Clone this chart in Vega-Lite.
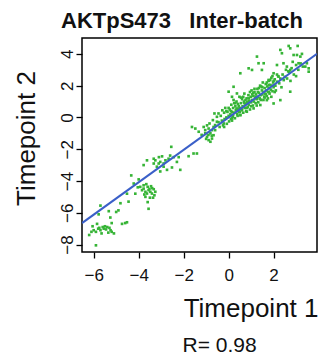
{
  "$schema": "https://vega.github.io/schema/vega-lite/v6.json",
  "width": 235,
  "height": 214,
  "autosize": "none",
  "padding": {"left": 82, "top": 38, "right": 5, "bottom": 106},
  "background": "white",
  "title": {
    "text": "AKTpS473\u00a0\u00a0\u00a0Inter-batch",
    "anchor": "start",
    "frame": "group",
    "dx": -21,
    "dy": 23,
    "offset": 11,
    "baseline": "alphabetic",
    "font": "Liberation Sans",
    "fontSize": 22,
    "fontWeight": "bold",
    "color": "#111111"
  },
  "config": {
    "view": {"stroke": "black", "strokeWidth": 1.5},
    "axis": {
      "grid": false,
      "domain": false,
      "tickColor": "black",
      "tickWidth": 1.3,
      "tickSize": 6,
      "labelFont": "Liberation Sans",
      "labelFontSize": 17,
      "labelColor": "#111111",
      "titleFont": "Liberation Sans",
      "titleFontWeight": "normal",
      "titleColor": "#111111"
    }
  },
  "encoding": {
    "y": {
      "field": "y",
      "type": "quantitative",
      "scale": {"domain": [-8.47, 5.0], "nice": false, "zero": false},
      "axis": {
        "values": [-8, -6, -4, -2, 0, 2, 4],
        "labelAngle": -90,
        "labelAlign": "center",
        "labelBaseline": "alphabetic",
        "labelPadding": 4,
        "title": "Timepoint 2",
        "titleFontSize": 26,
        "titleAngle": -90,
        "titleAlign": "center",
        "titleBaseline": "alphabetic",
        "titleX": -48,
        "titleY": 100
      }
    }
  },
  "layer": [
    {
      "data": {"values": [
        {"x":-6.2,"y":-7.4},{"x":-6.1,"y":-7.2},{"x":-6.0,"y":-7.1},{"x":-5.9,"y":-7.2},{"x":-5.8,"y":-7.0},{"x":-5.75,"y":-6.95},{"x":-5.7,"y":-7.1},{"x":-5.6,"y":-6.9},{"x":-5.55,"y":-7.0},{"x":-5.5,"y":-6.85},{"x":-5.45,"y":-7.05},{"x":-5.4,"y":-6.9},{"x":-5.3,"y":-6.95},{"x":-5.25,"y":-7.1},{"x":-5.2,"y":-7.2},{"x":-5.1,"y":-7.3},{"x":-6.05,"y":-6.85},{"x":-5.85,"y":-6.7},{"x":-5.9,"y":-8.05},{"x":-5.65,"y":-7.3},{"x":-5.35,"y":-7.25},
        {"x":-5.7,"y":-5.55},{"x":-5.78,"y":-6.1},{"x":-5.26,"y":-6.3},{"x":-5.2,"y":-6.65},{"x":-4.9,"y":-5.85},{"x":-4.81,"y":-5.4},{"x":-4.74,"y":-6.7},{"x":-4.6,"y":-6.65},{"x":-4.52,"y":-6.6},{"x":-5.0,"y":-5.95},{"x":-4.52,"y":-4.8},{"x":-4.45,"y":-5.3},{"x":-5.33,"y":-5.9},
        {"x":-3.93,"y":-4.37},{"x":-3.85,"y":-4.58},{"x":-3.78,"y":-4.48},{"x":-3.7,"y":-4.68},{"x":-3.63,"y":-4.79},{"x":-3.56,"y":-4.58},{"x":-3.48,"y":-4.68},{"x":-3.41,"y":-4.79},{"x":-3.33,"y":-4.52},{"x":-3.26,"y":-4.68},{"x":-3.6,"y":-4.37},{"x":-3.45,"y":-4.33},{"x":-3.7,"y":-5.0},{"x":-3.5,"y":-5.05},{"x":-3.36,"y":-5.05},{"x":-3.78,"y":-4.27},{"x":-3.66,"y":-4.2},{"x":-3.6,"y":-5.33},{"x":-3.56,"y":-5.75},{"x":-3.52,"y":-4.5},{"x":-3.4,"y":-4.45},{"x":-3.3,"y":-4.9},{"x":-3.75,"y":-4.85},
        {"x":-4.33,"y":-3.65},{"x":-4.22,"y":-4.16},{"x":-4.15,"y":-4.8},{"x":-4.0,"y":-3.9},{"x":-4.04,"y":-4.4},
        {"x":-3.78,"y":-3.0},{"x":-3.63,"y":-2.7},{"x":-3.33,"y":-2.6},{"x":-3.26,"y":-2.7},{"x":-3.1,"y":-2.5},{"x":-3.04,"y":-2.8},{"x":-2.96,"y":-2.45},{"x":-2.81,"y":-2.7},{"x":-2.67,"y":-2.6},{"x":-2.6,"y":-2.4},{"x":-2.55,"y":-1.85},{"x":-2.44,"y":-2.5},{"x":-2.3,"y":-2.8},{"x":-2.22,"y":-2.5},{"x":-2.15,"y":-3.3},{"x":-2.89,"y":-3.1},{"x":-2.74,"y":-3.3},{"x":-3.04,"y":-3.4},{"x":-2.52,"y":-3.15},{"x":-3.11,"y":-2.9},{"x":-2.89,"y":-2.9},{"x":-3.33,"y":-2.9},{"x":-3.19,"y":-3.1},
        {"x":-1.78,"y":-2.44},{"x":-1.56,"y":-2.27},{"x":-1.41,"y":-2.27},{"x":-1.48,"y":-0.7},{"x":-1.33,"y":-0.9},{"x":-1.63,"y":-0.6},
        {"x":-1.11,"y":-0.6},{"x":-1.04,"y":-0.8},{"x":-0.96,"y":-0.5},{"x":-0.89,"y":-0.7},{"x":-0.81,"y":-1.0},{"x":-0.74,"y":-0.8},{"x":-0.67,"y":-0.6},{"x":-0.96,"y":-1.22},{"x":-0.89,"y":-1.43},{"x":-0.81,"y":-1.53},{"x":-0.74,"y":-1.33},{"x":-0.67,"y":-1.12},{"x":-0.6,"y":-0.8},{"x":-1.04,"y":-1.0},{"x":-0.85,"y":-0.38},{"x":-0.7,"y":-0.17},{"x":-0.6,"y":-0.48},{"x":-0.52,"y":-0.27},{"x":-0.52,"y":0.04},{"x":-0.63,"y":0.25},{"x":-0.45,"y":0.25},{"x":-1.2,"y":-1.1},{"x":-0.9,"y":-1.1},{"x":-0.75,"y":-1.15},{"x":-1.0,"y":-1.35},
        {"x":-0.45,"y":-0.3},{"x":-0.4,"y":-0.6},{"x":-0.35,"y":0.1},{"x":-0.3,"y":-0.2},{"x":-0.28,"y":0.45},{"x":-0.25,"y":-0.5},{"x":-0.2,"y":0.3},{"x":-0.18,"y":-0.1},{"x":-0.15,"y":0.6},{"x":-0.1,"y":0.0},{"x":-0.08,"y":-0.4},{"x":-0.05,"y":0.35},{"x":0.0,"y":0.1},{"x":0.02,"y":-0.25},{"x":0.05,"y":0.5},{"x":0.08,"y":0.2},{"x":0.1,"y":-0.1},{"x":0.12,"y":0.8},{"x":0.15,"y":0.35},{"x":0.18,"y":0.05},{"x":0.2,"y":0.6},{"x":0.22,"y":1.1},{"x":0.25,"y":0.3},{"x":0.28,"y":-0.05},{"x":0.3,"y":0.7},{"x":0.32,"y":0.45},{"x":0.35,"y":1.0},{"x":0.38,"y":0.2},{"x":0.4,"y":0.55},{"x":0.42,"y":0.85},{"x":0.45,"y":0.35},{"x":0.48,"y":1.3},{"x":0.5,"y":0.6},{"x":0.52,"y":0.15},{"x":0.55,"y":0.9},{"x":0.58,"y":0.45},{"x":0.6,"y":1.15},{"x":0.62,"y":0.7},{"x":0.65,"y":0.3},{"x":0.68,"y":1.0},{"x":0.7,"y":1.5},{"x":0.72,"y":0.6},{"x":0.75,"y":0.85},{"x":0.78,"y":0.4},{"x":0.8,"y":1.2},{"x":0.82,"y":0.95},{"x":0.85,"y":0.65},{"x":0.88,"y":1.4},{"x":0.9,"y":0.8},{"x":0.92,"y":1.05},{"x":0.95,"y":0.5},{"x":0.98,"y":1.3},{"x":1.0,"y":0.95},{"x":1.02,"y":1.7},{"x":1.05,"y":1.1},{"x":1.08,"y":0.75},{"x":1.1,"y":1.35},{"x":1.12,"y":1.0},{"x":1.15,"y":1.6},{"x":1.18,"y":1.2},{"x":1.2,"y":0.9},{"x":1.22,"y":1.45},{"x":1.25,"y":1.15},{"x":1.28,"y":1.8},{"x":1.3,"y":1.3},{"x":1.32,"y":0.95},{"x":1.35,"y":1.55},{"x":1.38,"y":1.2},{"x":1.4,"y":2.0},{"x":1.42,"y":1.4},{"x":1.45,"y":1.1},{"x":1.48,"y":1.7},{"x":1.5,"y":1.45},{"x":1.52,"y":2.2},{"x":1.55,"y":1.6},{"x":1.58,"y":1.3},{"x":1.6,"y":1.85},{"x":1.62,"y":1.5},{"x":1.65,"y":2.1},{"x":1.68,"y":1.7},{"x":1.7,"y":1.35},{"x":1.72,"y":1.95},{"x":1.75,"y":1.6},{"x":1.78,"y":2.3},{"x":1.8,"y":1.85},{"x":1.82,"y":1.5},{"x":1.85,"y":2.05},{"x":1.88,"y":1.75},{"x":1.9,"y":2.5},{"x":1.92,"y":2.0},{"x":1.95,"y":1.65},{"x":1.98,"y":2.2},{"x":2.0,"y":1.9},{"x":2.05,"y":2.4},{"x":2.08,"y":2.0},{"x":2.1,"y":1.7},{"x":2.15,"y":2.25},{"x":2.2,"y":2.6},{"x":2.25,"y":2.15},{"x":2.3,"y":2.45},{"x":2.35,"y":1.9},{"x":2.4,"y":2.7},{"x":2.45,"y":2.35},{"x":2.5,"y":2.55},{"x":2.55,"y":3.0},{"x":2.6,"y":2.45},{"x":2.7,"y":2.85},{"x":2.75,"y":2.3},
        {"x":0.0,"y":0.6},{"x":0.1,"y":0.4},{"x":0.2,"y":0.15},{"x":0.3,"y":0.9},{"x":0.4,"y":0.1},{"x":0.5,"y":0.35},{"x":0.6,"y":0.5},{"x":0.7,"y":0.9},{"x":0.8,"y":0.6},{"x":0.9,"y":1.2},{"x":1.0,"y":0.7},{"x":1.1,"y":1.55},{"x":1.2,"y":1.3},{"x":1.3,"y":1.6},{"x":1.4,"y":1.15},{"x":1.5,"y":1.9},{"x":1.6,"y":1.25},{"x":1.7,"y":2.2},{"x":1.8,"y":1.6},{"x":1.9,"y":1.3},{"x":2.0,"y":2.3},{"x":-0.2,"y":-0.6},{"x":-0.1,"y":0.4},{"x":0.25,"y":0.9},{"x":0.45,"y":0.7},{"x":0.65,"y":1.3},{"x":0.85,"y":1.0},{"x":1.05,"y":1.45},{"x":1.25,"y":0.75},{"x":1.45,"y":1.95},{"x":1.65,"y":1.45},{"x":1.85,"y":2.35},{"x":2.05,"y":1.6},{"x":0.15,"y":-0.2},{"x":0.55,"y":1.25},{"x":0.95,"y":1.6},{"x":1.35,"y":1.85},{"x":1.75,"y":1.2},{"x":2.15,"y":2.7},{"x":0.35,"y":0.55},{"x":0.75,"y":1.1},{"x":1.15,"y":1.8},{"x":1.55,"y":1.1},{"x":1.95,"y":2.6},
        {"x":1.26,"y":3.83},{"x":1.33,"y":3.41},{"x":1.56,"y":3.41},{"x":1.48,"y":2.99},{"x":2.3,"y":4.25},{"x":2.37,"y":4.04},{"x":2.67,"y":4.5},{"x":2.74,"y":4.35},{"x":3.07,"y":4.5},{"x":2.89,"y":3.93},{"x":3.04,"y":3.93},{"x":3.19,"y":3.83},{"x":3.26,"y":4.0},{"x":3.11,"y":3.41},{"x":3.48,"y":3.41},{"x":3.41,"y":3.2},{"x":3.56,"y":3.09},{"x":3.56,"y":2.88},{"x":2.44,"y":3.41},{"x":2.59,"y":3.2},{"x":2.74,"y":2.99},{"x":2.15,"y":3.3},{"x":2.0,"y":2.78},{"x":2.22,"y":2.57},{"x":1.78,"y":2.36},{"x":1.78,"y":2.04},{"x":2.0,"y":0.88},{"x":2.3,"y":1.09},{"x":2.74,"y":1.62},{"x":0.89,"y":3.09},{"x":1.04,"y":2.99},{"x":0.52,"y":2.78},{"x":0.0,"y":1.62},{"x":0.15,"y":1.3},{"x":0.22,"y":1.93},{"x":0.37,"y":1.51},
        {"x":2.8,"y":3.1},{"x":2.9,"y":2.7},{"x":3.0,"y":3.3},{"x":3.1,"y":3.0},{"x":3.2,"y":3.4},{"x":3.3,"y":3.2},{"x":2.65,"y":2.9},{"x":2.85,"y":3.5},{"x":3.0,"y":2.6},
        {"x":1.41,"y":0.78},{"x":1.7,"y":1.09},{"x":1.11,"y":0.57},{"x":0.81,"y":0.36},{"x":0.52,"y":0.15},{"x":0.15,"y":-0.06},{"x":-0.22,"y":-0.38}
      ]},
      "mark": {"type": "point", "shape": "square", "filled": true, "size": 7, "opacity": 1, "color": "#36b436", "clip": true},
      "encoding": {
        "x": {
          "field": "x",
          "type": "quantitative",
          "scale": {"domain": [-6.52, 3.93], "nice": false, "zero": false},
          "axis": {
            "values": [-6, -4, -2, 0, 2],
            "labelPadding": 9,
            "title": "Timepoint 1",
            "titleFontSize": 26,
            "titleAnchor": "end",
            "titleAlign": "right",
            "titleBaseline": "alphabetic",
            "titleX": 236,
            "titleY": 64
          }
        }
      }
    },
    {
      "data": {"values": [
        {"x": -6.52, "y": -6.65},
        {"x": 3.93, "y": 4.0}
      ]},
      "mark": {"type": "line", "color": "#3a5fc8", "strokeWidth": 2, "clip": true},
      "encoding": {
        "x": {
          "field": "x",
          "type": "quantitative",
          "scale": {"domain": [-6.52, 3.93], "nice": false, "zero": false},
          "axis": {
            "orient": "top",
            "labels": false,
            "ticks": false,
            "domain": false,
            "title": "R= 0.98",
            "titleFontSize": 21,
            "titleAlign": "left",
            "titleAnchor": "start",
            "titleBaseline": "alphabetic",
            "titleAngle": 0,
            "titleX": 100,
            "titleY": 313
          }
        }
      }
    }
  ],
  "resolve": {"axis": {"x": "independent"}}
}
